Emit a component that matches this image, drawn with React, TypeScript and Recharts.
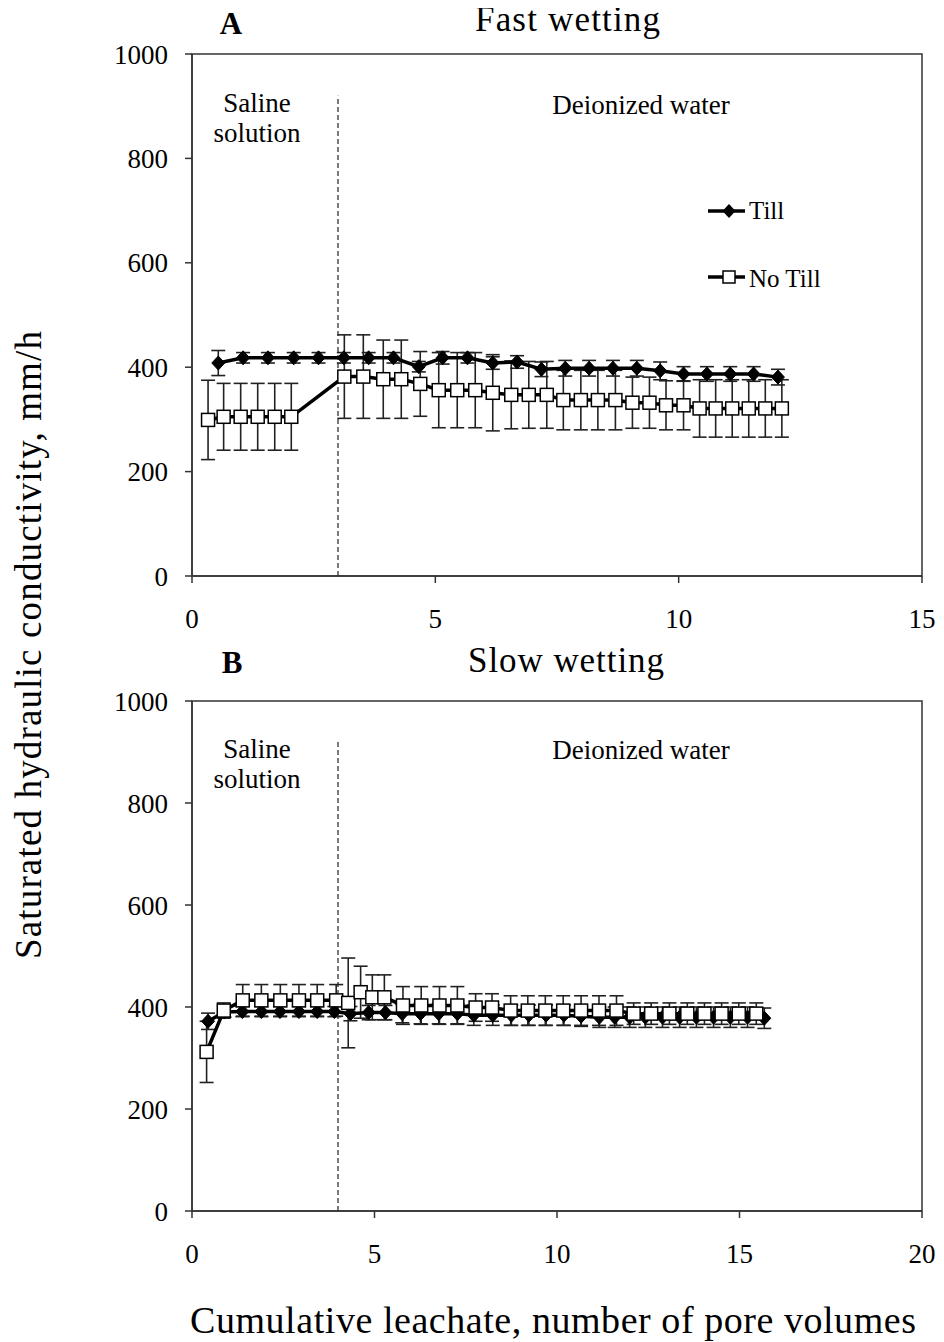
import React from 'react';
import {
  ScatterChart,
  Scatter,
  XAxis,
  YAxis,
  ErrorBar,
  ReferenceLine,
  ReferenceArea,
} from 'recharts';

const FONT = '"Liberation Serif", "Times New Roman", Times, serif';

// ---------- Panel A: Fast wetting ----------
const aTillX = [0.54, 1.05, 1.56, 2.09, 2.6, 3.12, 3.63, 4.14, 4.66, 5.15, 5.66, 6.18, 6.68, 7.18, 7.67, 8.16, 8.65, 9.14, 9.62, 10.1, 10.58, 11.06, 11.54, 12.04];
const aTillY = [408, 418, 418, 418, 418, 418, 418, 418, 401, 418, 418, 408, 410, 396, 398, 398, 398, 398, 393, 387, 387, 387, 387, 381];
const aTillErr = [24, 10, 10, 10, 10, 10, 10, 10, 10, 12, 10, 12, 12, 14, 15, 15, 15, 15, 17, 14, 14, 14, 14, 15];

const aNoTillX = [0.33, 0.65, 1.0, 1.35, 1.7, 2.04, 3.13, 3.52, 3.93, 4.3, 4.69, 5.07, 5.45, 5.82, 6.18, 6.56, 6.92, 7.29, 7.63, 7.99, 8.34, 8.7, 9.05, 9.4, 9.74, 10.1, 10.43, 10.76, 11.1, 11.44, 11.78, 12.12];
const aNoTillY = [299, 305, 305, 305, 305, 305, 382, 382, 377, 377, 368, 356, 356, 356, 351, 347, 347, 347, 337, 337, 337, 337, 332, 332, 327, 327, 321, 321, 321, 321, 321, 321];
const aNoTillErr = [76, 64, 64, 64, 64, 64, 80, 80, 75, 75, 62, 72, 72, 72, 73, 65, 64, 64, 57, 57, 57, 57, 49, 49, 47, 47, 55, 55, 55, 55, 55, 55];

// ---------- Panel B: Slow wetting ----------
const bTillX = [0.44, 0.89, 1.38, 1.9, 2.41, 2.93, 3.43, 3.9, 4.34, 4.84, 5.3, 5.76, 6.26, 6.76, 7.27, 7.72, 8.24, 8.75, 9.23, 9.7, 10.19, 10.66, 11.16, 11.58, 11.99, 12.42, 12.89, 13.36, 13.82, 14.29, 14.75, 15.22, 15.68];
const bTillY = [372, 390, 391, 391, 391, 391, 391, 391, 387, 389, 389, 387, 387, 387, 387, 384, 384, 384, 384, 384, 384, 382, 380, 380, 380, 380, 380, 380, 380, 380, 380, 380, 378];
const bTillErr = [16, 10, 10, 10, 10, 10, 10, 10, 14, 14, 14, 18, 20, 20, 20, 20, 20, 20, 20, 20, 20, 20, 20, 20, 20, 20, 20, 20, 20, 20, 20, 20, 20];

const bNoTillX = [0.4, 0.87, 1.39, 1.9, 2.42, 2.93, 3.43, 3.95, 4.28, 4.62, 4.94, 5.27, 5.78, 6.28, 6.78, 7.27, 7.77, 8.22, 8.73, 9.2, 9.68, 10.17, 10.66, 11.15, 11.63, 12.1, 12.58, 13.08, 13.57, 14.04, 14.51, 14.98, 15.46];
const bNoTillY = [312, 393, 413, 413, 413, 413, 413, 413, 408, 429, 419, 419, 403, 403, 403, 403, 399, 399, 393, 393, 393, 393, 393, 393, 393, 387, 387, 387, 387, 387, 387, 387, 387];
const bNoTillErr = [60, 15, 31, 31, 31, 31, 31, 31, 88, 51, 44, 44, 37, 37, 37, 37, 27, 27, 29, 29, 29, 29, 29, 29, 29, 21, 21, 21, 21, 21, 21, 21, 21];

const aXTicks = [0, 5, 10, 15];
const bXTicks = [0, 5, 10, 15, 20];
const yTicks = [0, 200, 400, 600, 800, 1000];

const zip = (xs: number[], ys: number[], es: number[]) =>
  xs.map((x, i) => ({ x, y: ys[i], err: es[i] }));

const DiamondShape = (props: any) => {
  const { cx, cy } = props;
  if (cx == null || cy == null) return null;
  const h = 7;
  const w = 6.5;
  return (
    <path
      d={`M${cx},${cy - h} L${cx + w},${cy} L${cx},${cy + h} L${cx - w},${cy} Z`}
      fill="#000"
      stroke="#000"
      strokeWidth={1}
    />
  );
};

const SquareShape = (props: any) => {
  const { cx, cy } = props;
  if (cx == null || cy == null) return null;
  const s = 6.5;
  return (
    <rect x={cx - s} y={cy - s} width={2 * s} height={2 * s} fill="#fff" stroke="#000" strokeWidth={1.5} />
  );
};

interface PanelProps {
  xMax: number;
  xTicks: number[];
  dashX: number;
  till: { x: number; y: number; err: number }[];
  noTill: { x: number; y: number; err: number }[];
  marginTop: number;
  height: number;
}

function Panel({ xMax, xTicks, dashX, till, noTill, marginTop, height }: PanelProps) {
  const axisStyle = { stroke: '#333', strokeWidth: 1.5 };
  return (
    <ScatterChart width={928} height={height} margin={{ top: marginTop, right: 14, bottom: 0, left: 0 }}>
      <ReferenceArea x1={0} x2={xMax} y1={0} y2={1000} fill="none" stroke="#333" strokeWidth={1.5} />
      <XAxis
        type="number"
        dataKey="x"
        domain={[0, xMax]}
        ticks={xTicks}
        height={60}
        tickSize={7}
        tickMargin={26}
        axisLine={axisStyle}
        tickLine={axisStyle}
        tick={{ fill: '#000', fontSize: 27, fontFamily: FONT }}
        allowDataOverflow
      />
      <YAxis
        type="number"
        dataKey="y"
        domain={[0, 1000]}
        ticks={yTicks}
        width={184}
        tickSize={7}
        tickMargin={17}
        axisLine={axisStyle}
        tickLine={axisStyle}
        tick={{ fill: '#000', fontSize: 27, fontFamily: FONT }}
        allowDataOverflow
      />
      <ReferenceLine
        segment={[
          { x: dashX, y: 0 },
          { x: dashX, y: 920 },
        ]}
        stroke="#222"
        strokeWidth={1.2}
        strokeDasharray="5 3"
      />
      <Scatter
        name="Till"
        data={till}
        line={{ stroke: '#000', strokeWidth: 3.5 }}
        lineType="joint"
        shape={DiamondShape}
        isAnimationActive={false}
      >
        <ErrorBar dataKey="err" direction="y" width={7} stroke="#222" strokeWidth={1.6} isAnimationActive={false} />
      </Scatter>
      <Scatter
        name="No Till"
        data={noTill}
        line={{ stroke: '#000', strokeWidth: 3.5 }}
        lineType="joint"
        shape={SquareShape}
        isAnimationActive={false}
      >
        <ErrorBar dataKey="err" direction="y" width={7} stroke="#222" strokeWidth={1.6} isAnimationActive={false} />
      </Scatter>
    </ScatterChart>
  );
}

export default function App() {
  const aTill = zip(aTillX, aTillY, aTillErr);
  const aNoTill = zip(aNoTillX, aNoTillY, aNoTillErr);
  const bTill = zip(bTillX, bTillY, bTillErr);
  const bNoTill = zip(bNoTillX, bNoTillY, bNoTillErr);

  return (
    <div style={{ position: 'relative', width: 928, height: 1334, fontFamily: FONT, background: '#fff' }}>
      <div style={{ position: 'absolute', left: 0, top: 0 }}>
        <Panel xMax={15} xTicks={aXTicks} dashX={3} till={aTill} noTill={aNoTill} marginTop={46} height={628} />
      </div>
      <div style={{ position: 'absolute', left: 0, top: 632 }}>
        <Panel xMax={20} xTicks={bXTicks} dashX={4} till={bTill} noTill={bNoTill} marginTop={61} height={631} />
      </div>
      {/* overlay in page coordinates */}
      <svg
        width={944}
        height={1342}
        style={{ position: 'absolute', left: -8, top: -8, pointerEvents: 'none' }}
        fontFamily={FONT}
      >
        {/* Panel titles */}
        <text x={231} y={34} fontSize={31} fontWeight="bold" textAnchor="middle" fill="#000">A</text>
        <text x={475} y={31} fontSize={35} textLength={185} lengthAdjust="spacing" fill="#000">Fast wetting</text>
        <text x={232} y={673} fontSize={31} fontWeight="bold" textAnchor="middle" fill="#000">B</text>
        <text x={468} y={672} fontSize={35} textLength={196} lengthAdjust="spacing" fill="#000">Slow wetting</text>

        {/* Annotations panel A */}
        <text x={257} y={112} fontSize={27} textAnchor="middle" fill="#000">Saline</text>
        <text x={257} y={142} fontSize={27} textAnchor="middle" fill="#000">solution</text>
        <text x={641} y={114} fontSize={27} textAnchor="middle" fill="#000">Deionized water</text>

        {/* Annotations panel B */}
        <text x={257} y={758} fontSize={27} textAnchor="middle" fill="#000">Saline</text>
        <text x={257} y={788} fontSize={27} textAnchor="middle" fill="#000">solution</text>
        <text x={641} y={759} fontSize={27} textAnchor="middle" fill="#000">Deionized water</text>

        {/* Legend */}
        <line x1={708} y1={211} x2={745} y2={211} stroke="#000" strokeWidth={3.5} />
        <path d="M729,204 L735.5,211 L729,218 L722.5,211 Z" fill="#000" />
        <text x={749} y={219} fontSize={25} fill="#000">Till</text>
        <line x1={708} y1={277} x2={745} y2={277} stroke="#000" strokeWidth={3.5} />
        <rect x={723} y={271} width={12} height={12} fill="#fff" stroke="#000" strokeWidth={1.5} />
        <text x={749} y={287} fontSize={25} fill="#000">No Till</text>

        {/* Axis titles */}
        <text
          x={41}
          y={645}
          fontSize={37}
          textAnchor="middle"
          textLength={628}
          lengthAdjust="spacing"
          transform="rotate(-90, 41, 645)"
          fill="#000"
        >
          Saturated hydraulic conductivity, mm/h
        </text>
        <text x={553} y={1333} fontSize={38} textAnchor="middle" textLength={726} lengthAdjust="spacing" fill="#000">
          Cumulative leachate, number of pore volumes
        </text>
      </svg>
    </div>
  );
}
